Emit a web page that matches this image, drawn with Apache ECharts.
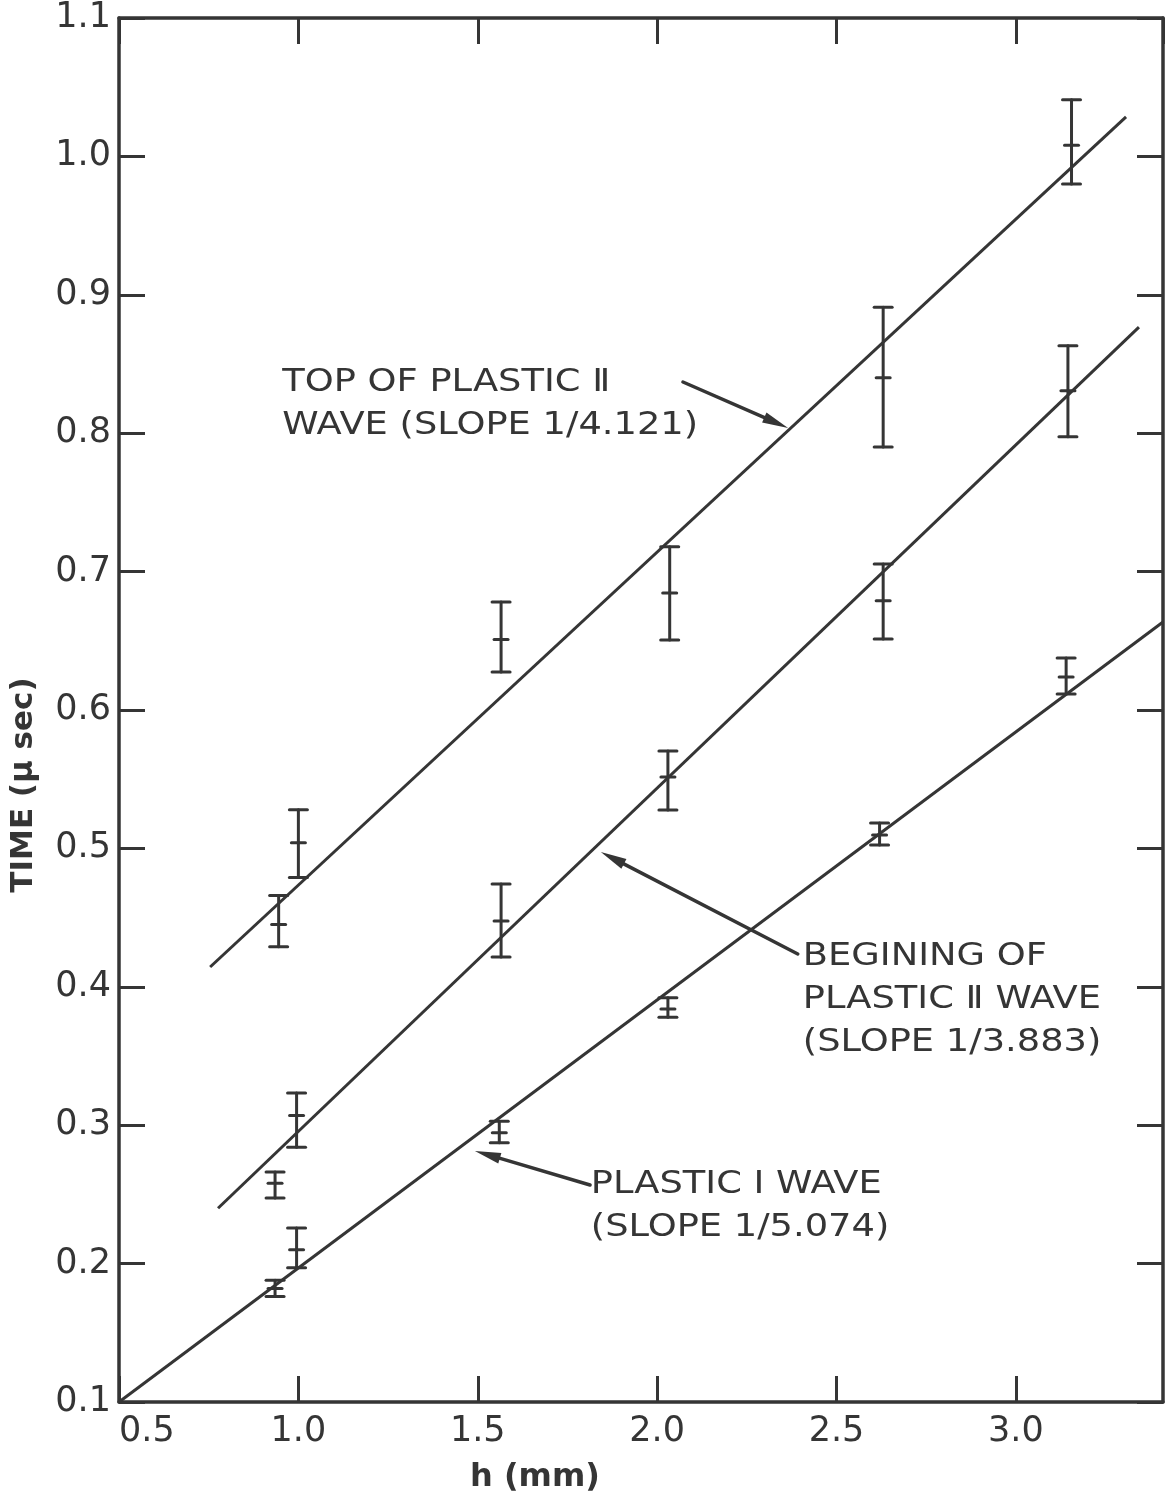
<!DOCTYPE html>
<html>
<head>
<meta charset="utf-8">
<script src="https://cdn.jsdelivr.net/npm/echarts@6/dist/echarts.min.js"></script>
<style>
  html, body { margin: 0; padding: 0; background: #ffffff; }
  #chart { width: 1167px; height: 1500px; }
</style>
</head>
<body>
<div id="chart"></div>
<script>
// ---- Data ----
// x positions (h, mm) of measured points
const hTop = [0.945, 1.0, 1.565, 2.035, 2.63, 3.155];
const hMid = [0.935, 0.995, 1.565, 2.03, 2.63, 3.145];
const hBot = [0.935, 0.995, 1.56, 2.03, 2.62, 3.14];

// Top of plastic II wave: value, lower and upper error limits (µsec)
const tTop   = [0.445, 0.504, 0.651, 0.6845, 0.840, 1.008];
const tTopLo = [0.429, 0.479, 0.6275, 0.6506, 0.790, 0.980];
const tTopHi = [0.466, 0.528, 0.678, 0.718, 0.891, 1.041];

// Beginning of plastic II wave
const tMid   = [0.258, 0.307, 0.4475, 0.5516, 0.679, 0.8306];
const tMidLo = [0.2474, 0.284, 0.4215, 0.5277, 0.6513, 0.7975];
const tMidHi = [0.2662, 0.3233, 0.4743, 0.5704, 0.7055, 0.8632];

// Plastic I wave
const tBot   = [0.182, 0.210, 0.2945, 0.384, 0.5097, 0.6238];
const tBotLo = [0.1763, 0.197, 0.2874, 0.378, 0.5025, 0.6116];
const tBotHi = [0.188, 0.2257, 0.3028, 0.392, 0.5184, 0.6376];

// Fitted straight lines (end points in data units)
const fitTop = [[0.754, 0.4143], [3.307, 1.0285]];
const fitMid = [[0.776, 0.240], [3.343, 0.8767]];
const fitBot = [[0.5, 0.1], [3.41, 0.6636]];

// Annotations (data units)
const annText = [
  'TOP OF PLASTIC \u2161\nWAVE (SLOPE 1/4.121)',
  'BEGINING OF\nPLASTIC \u2161 WAVE\n(SLOPE 1/3.883)',
  'PLASTIC \u2160 WAVE\n(SLOPE 1/5.074)'
];
const annAt = [[0.955, 0.8207], [2.406, 0.3905], [1.815, 0.2416]];
const arrowFrom = [[2.072, 0.837], [2.392, 0.4237], [1.813, 0.2568]];
const arrowTo   = [[2.365, 0.8038], [1.843, 0.4974], [1.492, 0.2814]];

// Axes
const xMin = 0.5, xMax = 3.41, xStep = 0.5;
const yMin = 0.1, yMax = 1.1, yStep = 0.1;
const xTitle = 'h (mm)';
const yTitle = 'TIME (\u03bc sec)';

// ---- Styling ----
const INK = '#353535';
const FONT = '"DejaVu Sans", "Noto Sans", sans-serif';

function errData(h, v, lo, hi) {
  return h.map((x, i) => [x, lo[i], hi[i], v[i]]);
}

function renderErr(params, api) {
  const x = api.value(0);
  const pLo = api.coord([x, api.value(1)]);
  const pHi = api.coord([x, api.value(2)]);
  const pMid = api.coord([x, api.value(3)]);
  const cap = 9, tick = 7;
  const st = { stroke: INK, lineWidth: 3, lineCap: 'round' };
  return {
    type: 'group',
    children: [
      { type: 'line', shape: { x1: pLo[0], y1: pLo[1], x2: pHi[0], y2: pHi[1] }, style: st },
      { type: 'line', shape: { x1: pLo[0] - cap, y1: pLo[1], x2: pLo[0] + cap, y2: pLo[1] }, style: st },
      { type: 'line', shape: { x1: pHi[0] - cap, y1: pHi[1], x2: pHi[0] + cap, y2: pHi[1] }, style: st },
      { type: 'line', shape: { x1: pMid[0] - tick, y1: pMid[1], x2: pMid[0] + tick, y2: pMid[1] }, style: st }
    ]
  };
}

function renderArrow(params, api) {
  const a = api.coord([api.value(0), api.value(1)]);
  const b = api.coord([api.value(2), api.value(3)]);
  const dx = b[0] - a[0], dy = b[1] - a[1];
  const len = Math.sqrt(dx * dx + dy * dy);
  const ux = dx / len, uy = dy / len;
  const hl = 26, hw = 5.5;
  const bx = b[0] - ux * hl, by = b[1] - uy * hl;
  return {
    type: 'group',
    children: [
      { type: 'line', shape: { x1: a[0], y1: a[1], x2: bx + ux * 4, y2: by + uy * 4 },
        style: { stroke: INK, lineWidth: 3.5, lineCap: 'round' } },
      { type: 'polygon', shape: { points: [[b[0], b[1]], [bx - uy * hw, by + ux * hw], [bx + uy * hw, by - ux * hw]] },
        style: { fill: INK } }
    ]
  };
}

function renderText(params, api) {
  const p = api.coord([api.value(0), api.value(1)]);
  return {
    type: 'text',
    x: p[0], y: p[1],
    scaleX: 1.15,
    style: {
      x: 0, y: 0,
      text: annText[params.dataIndex],
      font: '32px ' + FONT,
      fill: INK,
      align: 'left',
      verticalAlign: 'middle',
      lineHeight: 43
    }
  };
}

const lineStyle = { color: INK, width: 3 };

const chart = echarts.init(document.getElementById('chart'), null, { renderer: 'canvas' });

const axisLineCommon = { show: true, onZero: false, lineStyle: { color: INK, width: 3.5 } };
const tickCommon = { show: true, inside: true, length: 26, lineStyle: { color: INK, width: 3 } };

chart.setOption({
  backgroundColor: '#ffffff',
  animation: false,
  grid: { left: 119, right: 4, top: 18, bottom: 98 },
  xAxis: [
    {
      type: 'value', min: xMin, max: xMax, interval: xStep, position: 'bottom',
      axisLine: axisLineCommon, axisTick: tickCommon, splitLine: { show: false },
      axisLabel: {
        fontSize: 35, fontFamily: FONT, color: INK, margin: 12,
        showMaxLabel: false, alignMinLabel: 'left',
        formatter: v => v.toFixed(1)
      },
      name: xTitle, nameLocation: 'middle', nameGap: 60,
      nameTextStyle: { fontSize: 32, fontFamily: FONT, fontWeight: 'bold', color: INK, padding: [0, 212, 0, 0] }
    },
    {
      type: 'value', min: xMin, max: xMax, interval: xStep, position: 'top',
      axisLine: axisLineCommon, axisTick: tickCommon, splitLine: { show: false },
      axisLabel: { show: false }
    }
  ],
  yAxis: [
    {
      type: 'value', min: yMin, max: yMax, interval: yStep, position: 'left',
      axisLine: axisLineCommon, axisTick: tickCommon, splitLine: { show: false },
      axisLabel: {
        fontSize: 35, fontFamily: FONT, color: INK, margin: 8,
        formatter: v => v.toFixed(1)
      },
      name: yTitle, nameLocation: 'middle', nameGap: 80,
      nameTextStyle: { fontSize: 31, fontFamily: FONT, fontWeight: 'bold', color: INK, padding: [0, 150, 0, 0] }
    },
    {
      type: 'value', min: yMin, max: yMax, interval: yStep, position: 'right',
      axisLine: axisLineCommon, axisTick: tickCommon, splitLine: { show: false },
      axisLabel: { show: false }
    }
  ],
  series: [
    { name: 'Top of plastic II wave fit', type: 'line', data: fitTop, symbol: 'none', lineStyle, silent: true },
    { name: 'Beginning of plastic II wave fit', type: 'line', data: fitMid, symbol: 'none', lineStyle, silent: true },
    { name: 'Plastic I wave fit', type: 'line', data: fitBot, symbol: 'none', lineStyle, silent: true },
    { name: 'Top of plastic II wave', type: 'custom', renderItem: renderErr,
      data: errData(hTop, tTop, tTopLo, tTopHi), encode: { x: 0, y: [1, 2, 3] }, silent: true },
    { name: 'Beginning of plastic II wave', type: 'custom', renderItem: renderErr,
      data: errData(hMid, tMid, tMidLo, tMidHi), encode: { x: 0, y: [1, 2, 3] }, silent: true },
    { name: 'Plastic I wave', type: 'custom', renderItem: renderErr,
      data: errData(hBot, tBot, tBotLo, tBotHi), encode: { x: 0, y: [1, 2, 3] }, silent: true },
    { name: 'arrows', type: 'custom', renderItem: renderArrow,
      data: arrowFrom.map((f, i) => [f[0], f[1], arrowTo[i][0], arrowTo[i][1]]),
      encode: { x: [0, 2], y: [1, 3] }, silent: true, clip: false },
    { name: 'labels', type: 'custom', renderItem: renderText,
      data: annAt, encode: { x: 0, y: 1 }, silent: true, clip: false }
  ]
});
</script>
</body>
</html>
